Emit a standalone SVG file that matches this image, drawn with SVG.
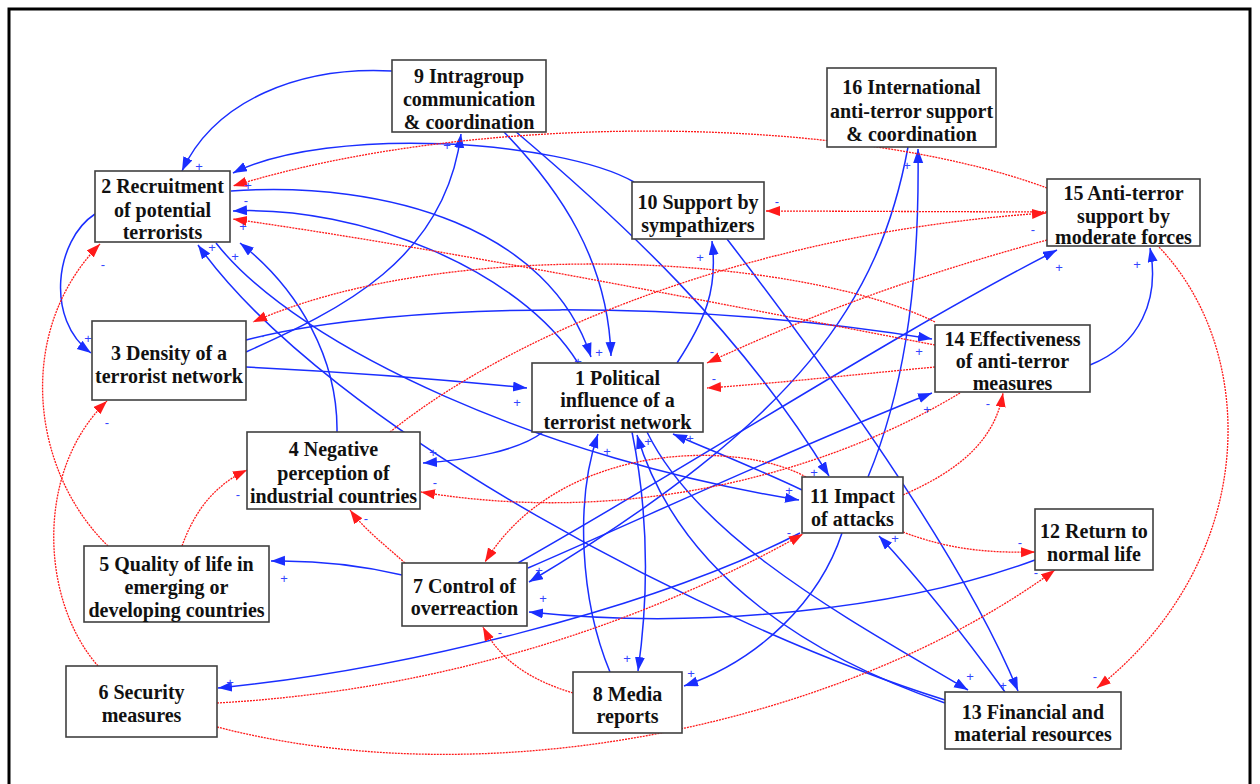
<svg xmlns="http://www.w3.org/2000/svg" width="1260" height="784" viewBox="0 0 1260 784">
<defs>
<marker id="ab" markerUnits="userSpaceOnUse" markerWidth="16" markerHeight="12" refX="14" refY="5" orient="auto"><path d="M0,0 L14,5 L0,10 z" fill="#1a2eff"/></marker>
<marker id="ar" markerUnits="userSpaceOnUse" markerWidth="16" markerHeight="12" refX="14" refY="5" orient="auto"><path d="M0,0 L14,5 L0,10 z" fill="#ff1a1a"/></marker>
</defs>
<style>
.b{fill:none;stroke:#1a2eff;stroke-width:1.5;marker-end:url(#ab)}
.r{fill:none;stroke:#ff1a1a;stroke-width:1.3;stroke-dasharray:2 1;marker-end:url(#ar)}
.box{fill:#fff;stroke:#404040;stroke-width:1.6}
.t{font-family:"Liberation Serif","Times New Roman",serif;font-weight:bold;font-size:20px;fill:#111;text-anchor:middle}
.l{font-family:"Liberation Sans",Arial,sans-serif;font-size:13px;fill:#3344ff;text-anchor:middle}
</style>
<rect width="1260" height="784" fill="#fff"/>
<rect x="9" y="9" width="1241" height="800" fill="none" stroke="#000" stroke-width="3"/>
<g id="connectors">
<path class="b" d="M392,71 C300,66 215,100 182,171"/>
<path class="b" d="M634,182 C560,140 330,125 233,173"/>
<path class="b" d="M231,191 C390,180 550,230 591,357"/>
<path class="b" d="M578,363 C520,270 360,205 233,211"/>
<path class="b" d="M504,132 C560,190 608,260 611,356"/>
<path class="b" d="M515,131 C620,220 740,330 829,476"/>
<path class="b" d="M246,352 C340,310 445,260 461,134"/>
<path class="b" d="M246,340 C400,300 700,300 932,339"/>
<path class="b" d="M246,367 C350,372 450,380 527,388"/>
<path class="b" d="M677,363 C705,320 718,290 712,241"/>
<path class="b" d="M727,239 C820,360 960,550 1018,691"/>
<path class="b" d="M543,432 C520,450 470,460 423,463"/>
<path class="b" d="M337,432 C338,360 300,290 240,243"/>
<path class="b" d="M945,700 C720,630 330,430 198,245"/>
<path class="b" d="M216,243 C300,350 550,460 799,500"/>
<path class="b" d="M610,672 C580,600 575,500 598,434"/>
<path class="b" d="M632,432 C650,520 648,600 638,671"/>
<path class="b" d="M945,703 C820,660 680,580 637,435"/>
<path class="b" d="M647,432 C700,540 850,620 968,690"/>
<path class="b" d="M802,490 C760,470 710,450 673,434"/>
<path class="b" d="M1005,692 C960,630 920,580 879,536"/>
<path class="b" d="M800,533 C650,610 400,670 218,688"/>
<path class="b" d="M842,533 C820,600 760,660 684,686"/>
<path class="b" d="M402,575 C360,565 320,560 271,561"/>
<path class="b" d="M1035,560 C900,610 700,630 529,612"/>
<path class="b" d="M518,563 C700,460 900,330 1057,250"/>
<path class="b" d="M528,568 C650,515 800,445 932,393"/>
<path class="b" d="M908,147 C880,300 800,420 529,582"/>
<path class="b" d="M868,477 C900,400 920,300 918,149"/>
<path class="b" d="M1090,365 C1140,345 1160,300 1150,248"/>
<path class="b" d="M95,214 C55,240 45,320 91,353"/>
<path class="r" d="M1047,188 C850,115 480,110 233,186"/>
<path class="r" d="M935,345 C700,300 450,250 233,219"/>
<path class="r" d="M935,322 C800,255 450,235 253,322"/>
<path class="r" d="M935,367 C850,375 780,383 707,388"/>
<path class="r" d="M1047,240 C900,280 800,320 707,363"/>
<path class="r" d="M390,432 C530,320 780,230 1046,213"/>
<path class="r" d="M1047,212 L766,211"/>
<path class="r" d="M1157,245 C1260,350 1260,560 1097,688"/>
<path class="r" d="M108,546 C30,470 15,330 100,244"/>
<path class="r" d="M98,666 C40,600 35,470 107,401"/>
<path class="r" d="M182,546 C195,510 215,485 247,470"/>
<path class="r" d="M405,563 C385,545 365,530 350,510"/>
<path class="r" d="M806,477 C740,440 560,440 485,562"/>
<path class="r" d="M573,693 C530,680 500,660 483,627"/>
<path class="r" d="M217,703 C450,690 650,620 803,534"/>
<path class="r" d="M217,727 C500,800 850,720 1055,570"/>
<path class="r" d="M903,532 C950,550 990,553 1035,552"/>
<path class="r" d="M903,495 C960,470 995,440 1003,393"/>
<path class="r" d="M960,393 C850,460 650,530 421,492"/>
</g>
<g id="labels">
<text class="l" x="199" y="171">+</text>
<text class="l" x="248" y="190">+</text>
<text class="l" x="246" y="205">-</text>
<text class="l" x="243" y="231">+</text>
<text class="l" x="212" y="252">+</text>
<text class="l" x="235" y="261">+</text>
<text class="l" x="88" y="343">+</text>
<text class="l" x="103" y="269">-</text>
<text class="l" x="107" y="427">-</text>
<text class="l" x="262" y="340">-</text>
<text class="l" x="433" y="457">+</text>
<text class="l" x="435" y="487">-</text>
<text class="l" x="238" y="499">-</text>
<text class="l" x="366" y="523">-</text>
<text class="l" x="284" y="583">+</text>
<text class="l" x="230" y="687">+</text>
<text class="l" x="539" y="575">+</text>
<text class="l" x="543" y="603">+</text>
<text class="l" x="500" y="637">-</text>
<text class="l" x="627" y="663">+</text>
<text class="l" x="691" y="678">+</text>
<text class="l" x="599" y="357">+</text>
<text class="l" x="578" y="366">+</text>
<text class="l" x="517" y="407">+</text>
<text class="l" x="712" y="356">-</text>
<text class="l" x="714" y="383">-</text>
<text class="l" x="607" y="456">+</text>
<text class="l" x="648" y="446">+</text>
<text class="l" x="690" y="443">+</text>
<text class="l" x="447" y="150">+</text>
<text class="l" x="777" y="206">-</text>
<text class="l" x="700" y="262">+</text>
<text class="l" x="814" y="477">+</text>
<text class="l" x="789" y="495">+</text>
<text class="l" x="789" y="537">-</text>
<text class="l" x="895" y="543">+</text>
<text class="l" x="1020" y="547">-</text>
<text class="l" x="1036" y="577">-</text>
<text class="l" x="970" y="681">+</text>
<text class="l" x="1003" y="690">+</text>
<text class="l" x="1095" y="681">-</text>
<text class="l" x="919" y="356">+</text>
<text class="l" x="927" y="414">+</text>
<text class="l" x="988" y="408">-</text>
<text class="l" x="1033" y="234">-</text>
<text class="l" x="1059" y="272">+</text>
<text class="l" x="1137" y="269">+</text>
<text class="l" x="907" y="170">+</text>
</g>
<g id="n1"><rect class="box" x="532" y="363" width="171" height="69"/><text class="t" x="617.5" y="385">1 Political</text><text class="t" x="617.5" y="407">influence of a</text><text class="t" x="617.5" y="429">terrorist network</text></g>
<g id="n2"><rect class="box" x="95" y="171" width="135" height="71"/><text class="t" x="162.5" y="193">2 Recruitment</text><text class="t" x="162.5" y="217">of potential</text><text class="t" x="162.5" y="239">terrorists</text></g>
<g id="n3"><rect class="box" x="92" y="321" width="154" height="79"/><text class="t" x="169" y="360">3 Density of a</text><text class="t" x="169" y="383">terrorist network</text></g>
<g id="n4"><rect class="box" x="247" y="432" width="173" height="77"/><text class="t" x="333.5" y="456">4 Negative</text><text class="t" x="333.5" y="480">perception of</text><text class="t" x="333.5" y="503">industrial countries</text></g>
<g id="n5"><rect class="box" x="84" y="546" width="185" height="76"/><text class="t" x="176.5" y="571">5 Quality of life in</text><text class="t" x="176.5" y="594">emerging or</text><text class="t" x="176.5" y="617">developing countries</text></g>
<g id="n6"><rect class="box" x="66" y="666" width="151" height="71"/><text class="t" x="141.5" y="699">6 Security</text><text class="t" x="141.5" y="722">measures</text></g>
<g id="n7"><rect class="box" x="402" y="563" width="125" height="63"/><text class="t" x="464.5" y="593">7 Control of</text><text class="t" x="464.5" y="615">overreaction</text></g>
<g id="n8"><rect class="box" x="573" y="672" width="109" height="61"/><text class="t" x="627.5" y="701">8 Media</text><text class="t" x="627.5" y="723">reports</text></g>
<g id="n9"><rect class="box" x="392" y="60" width="154" height="72"/><text class="t" x="469" y="83">9 Intragroup</text><text class="t" x="469" y="106">communication</text><text class="t" x="469" y="129">&amp; coordination</text></g>
<g id="n10"><rect class="box" x="632" y="182" width="132" height="57"/><text class="t" x="698" y="209">10 Support by</text><text class="t" x="698" y="232">sympathizers</text></g>
<g id="n11"><rect class="box" x="802" y="477" width="101" height="56"/><text class="t" x="852.5" y="503">11 Impact</text><text class="t" x="852.5" y="526">of attacks</text></g>
<g id="n12"><rect class="box" x="1035" y="509" width="118" height="61"/><text class="t" x="1094" y="538">12 Return to</text><text class="t" x="1094" y="561">normal life</text></g>
<g id="n13"><rect class="box" x="945" y="692" width="176" height="57"/><text class="t" x="1033" y="719">13 Financial and</text><text class="t" x="1033" y="741">material resources</text></g>
<g id="n14"><rect class="box" x="935" y="325" width="155" height="67"/><text class="t" x="1012.5" y="346">14 Effectiveness</text><text class="t" x="1012.5" y="368">of anti-terror</text><text class="t" x="1012.5" y="390">measures</text></g>
<g id="n15"><rect class="box" x="1047" y="179" width="153" height="67"/><text class="t" x="1123.5" y="200">15 Anti-terror</text><text class="t" x="1123.5" y="223">support by</text><text class="t" x="1123.5" y="244">moderate forces</text></g>
<g id="n16"><rect class="box" x="827" y="68" width="169" height="79"/><text class="t" x="911.5" y="94">16 International</text><text class="t" x="911.5" y="118">anti-terror support</text><text class="t" x="911.5" y="141">&amp; coordination</text></g>
</svg>
